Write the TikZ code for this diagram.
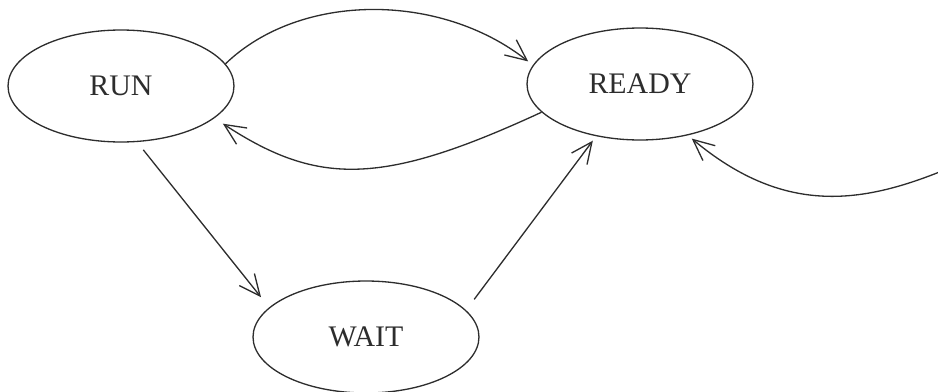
\documentclass[tikz,border=0pt]{standalone}
\usepackage{fontspec}
\setmainfont{Liberation Serif}
\usetikzlibrary{shapes.geometric,arrows.meta}
\definecolor{ink}{RGB}{45,45,45}
\tikzset{
  state/.style={draw=ink, ellipse, line width=0.75pt, minimum width=4.52cm, minimum height=2.24cm, inner sep=0pt, text=ink, font=\fontsize{17}{20}\selectfont},
  conn/.style={draw=ink, line width=0.75pt, -{Straight Barb[length=12pt,width=11pt,line width=0.75pt]}}
}
\begin{document}
\begin{tikzpicture}[x=0.02cm, y=-0.02cm]
\useasboundingbox (0,0) rectangle (938,392);
\node[state] (run) at (121,86) {RUN};
\node[state] (ready) at (640,84) {READY};
\node[state] (wait) at (366,337) {WAIT};
\coordinate (ext) at (942,171);
% RUN -> READY (top arc)
\draw[conn, shorten >=0.12cm] (run.12) .. controls (300,-8) and (440,-8) .. (ready.170);
% READY -> RUN (bottom arc)
\draw[conn, shorten >=0.2cm] (ready.-164) .. controls (382,186) and (318,186) .. (run.-19);
% RUN -> WAIT
\draw[conn, shorten <=0.2cm, shorten >=0.26cm] (run.-74) -- (wait.163);
% WAIT -> READY
\draw[conn, shorten <=0.27cm, shorten >=0.11cm] (wait.15.6) -- (ready.-130);
% external -> READY
\draw[conn, shorten >=0.1cm] (ext) .. controls (860,204) and (783,215) .. (ready.-47);
\end{tikzpicture}
\end{document}
